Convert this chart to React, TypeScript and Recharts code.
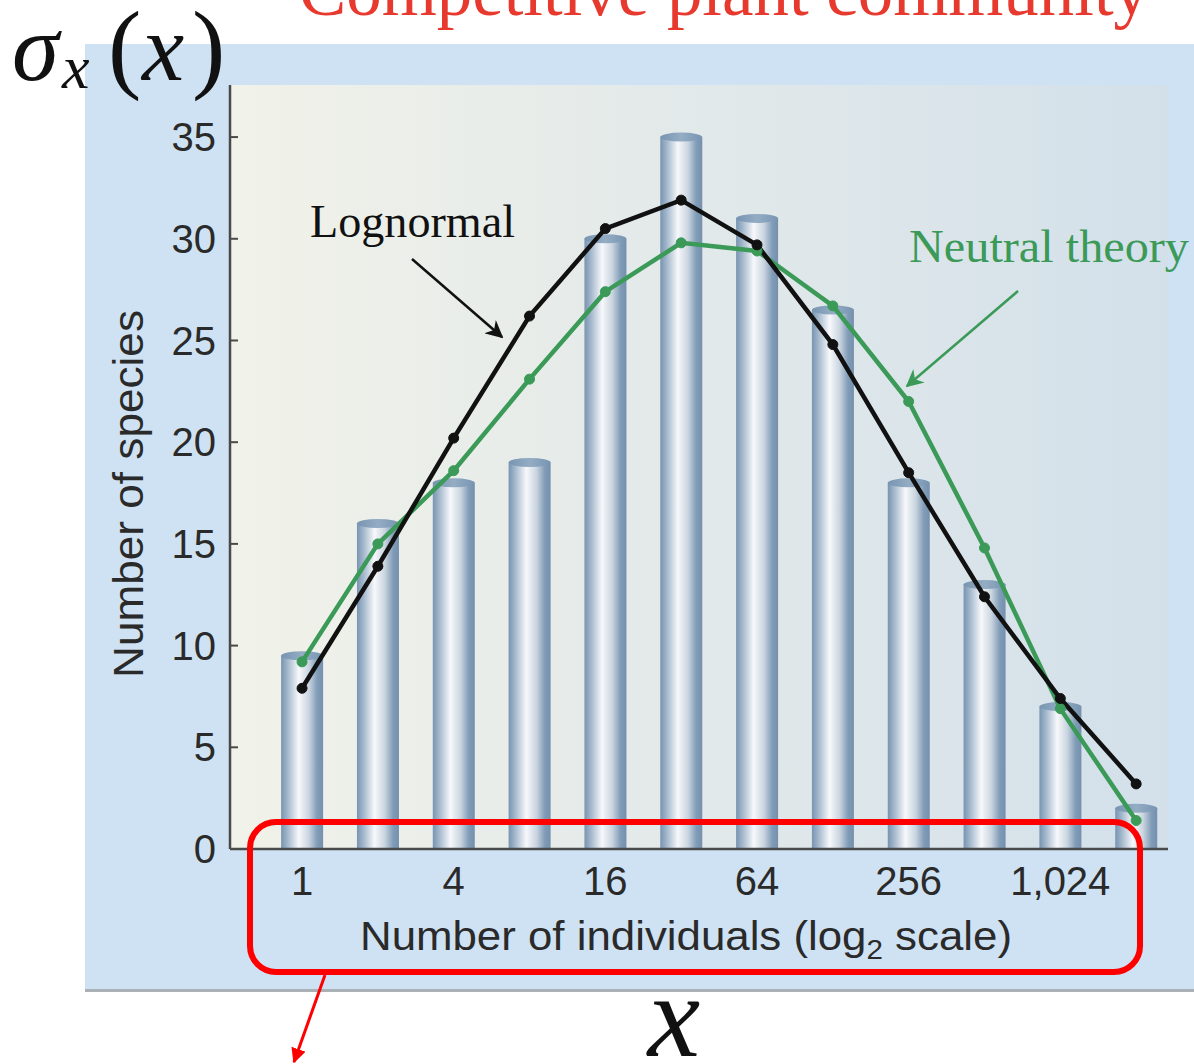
import React from "react";
import { ComposedChart, Bar, Line, XAxis, YAxis, CartesianGrid } from "recharts";

// abundance classes, log2 of the number of individuals (1, 2, 4, ... 2048)
const abundanceClass = [0, 1, 2, 3, 4, 5, 6, 7, 8, 9, 10, 11];
const observedSpecies = [9.5, 16, 18, 19, 30, 35, 31, 26.5, 18, 13, 7, 2];
const lognormalFit = [7.9, 13.9, 20.2, 26.2, 30.5, 31.9, 29.7, 24.8, 18.5, 12.4, 7.4, 3.2];
const neutralFit = [9.2, 15.0, 18.6, 23.1, 27.4, 29.8, 29.4, 26.7, 22.0, 14.8, 6.9, 1.4];

const yTicks = [0, 5, 10, 15, 20, 25, 30, 35];
const xTickClasses = [0, 2, 4, 6, 8, 10];
const xTickLabels = ["1", "4", "16", "64", "256", "1,024"];

const data = abundanceClass.map((k, i) => ({
  k,
  observed: observedSpecies[i],
  lognormal: lognormalFit[i],
  neutral: neutralFit[i],
}));

const sans = "'Liberation Sans', Arial, sans-serif";
const serif = "'Liberation Serif', 'Times New Roman', serif";

const Cylinder = (props: any) => {
  const { x, y, width, height } = props;
  if (!height) return null;
  return (
    <g>
      <rect x={x} y={y} width={width} height={height} fill="url(#cylBody)" />
      <ellipse cx={x + width / 2} cy={y} rx={width / 2} ry={4.5} fill="url(#cylCap)" />
    </g>
  );
};

export default function App() {
  return (
    <div style={{ position: "absolute", left: 0, top: 0, width: 1194, height: 1064, background: "#fff", overflow: "hidden" }}>
      {/* blue panel behind the chart */}
      <div
        style={{
          position: "absolute",
          left: 85,
          top: 44,
          width: 1109,
          height: 945,
          background: "#cfe2f3",
          borderBottom: "3px solid #a9b0b6",
        }}
      />
      <div style={{ position: "absolute", left: 0, top: 0 }}>
        <ComposedChart
          width={1194}
          height={1064}
          data={data}
          margin={{ top: 85, right: 26, bottom: 155, left: 150 }}
        >
          <defs>
            <linearGradient id="plotBg" x1="0" y1="0" x2="1" y2="0">
              <stop offset="0%" stopColor="#f1f2e9" />
              <stop offset="100%" stopColor="#d3e0ea" />
            </linearGradient>
            <linearGradient id="cylBody" x1="0" y1="0" x2="1" y2="0">
              <stop offset="0%" stopColor="#7794b1" />
              <stop offset="14%" stopColor="#9fb4c9" />
              <stop offset="42%" stopColor="#f7f8fb" />
              <stop offset="66%" stopColor="#cad5e0" />
              <stop offset="86%" stopColor="#819cb7" />
              <stop offset="100%" stopColor="#7590ae" />
            </linearGradient>
            <linearGradient id="cylCap" x1="0" y1="0" x2="1" y2="0">
              <stop offset="0%" stopColor="#7794b1" />
              <stop offset="50%" stopColor="#94adc4" />
              <stop offset="100%" stopColor="#7794b1" />
            </linearGradient>
          </defs>
          <CartesianGrid horizontal={false} vertical={false} fill="url(#plotBg)" />
          <XAxis
            dataKey="k"
            type="number"
            domain={[-0.95, 11.42]}
            ticks={xTickClasses}
            tickFormatter={(v: number) => xTickLabels[xTickClasses.indexOf(v)] ?? ""}
            tickLine={false}
            tickMargin={12}
            height={60}
            axisLine={{ stroke: "#4a4a4a", strokeWidth: 2.5 }}
            tick={{ fill: "#2a2a2a", fontSize: 40, fontFamily: sans }}
            allowDataOverflow
          />
          <YAxis
            type="number"
            domain={[0, 37.56]}
            ticks={yTicks}
            width={80}
            tickSize={-8}
            tickMargin={22}
            axisLine={{ stroke: "#4a4a4a", strokeWidth: 2.5 }}
            tickLine={{ stroke: "#4a4a4a", strokeWidth: 2 }}
            tick={{ fill: "#2a2a2a", fontSize: 40, fontFamily: sans }}
            allowDataOverflow
          />
          <Bar dataKey="observed" barSize={42} shape={<Cylinder />} isAnimationActive={false} />
          <Line
            dataKey="neutral"
            stroke="#3b9a58"
            strokeWidth={4.5}
            dot={{ r: 5, fill: "#3b9a58", stroke: "#3b9a58", strokeWidth: 1 }}
            isAnimationActive={false}
          />
          <Line
            dataKey="lognormal"
            stroke="#111"
            strokeWidth={4.5}
            dot={{ r: 5, fill: "#111", stroke: "#111", strokeWidth: 1 }}
            isAnimationActive={false}
          />
        </ComposedChart>
      </div>
      {/* titles and annotations */}
      <svg
        width={1194}
        height={1064}
        style={{ position: "absolute", left: 0, top: 0, pointerEvents: "none" }}
      >
        <defs>
          <marker id="arrBlack" viewBox="0 0 10 10" refX="9" refY="5" markerWidth="7" markerHeight="7" orient="auto">
            <path d="M0,0 L10,5 L0,10 L3,5 Z" fill="#111" />
          </marker>
          <marker id="arrGreen" viewBox="0 0 10 10" refX="9" refY="5" markerWidth="7" markerHeight="7" orient="auto">
            <path d="M0,0 L10,5 L0,10 L3,5 Z" fill="#3b9a58" />
          </marker>
          <marker id="arrRed" viewBox="0 0 10 10" refX="9" refY="5" markerWidth="5" markerHeight="5" orient="auto">
            <path d="M0,0 L10,5 L0,10 Z" fill="#f00" />
          </marker>
        </defs>
        <text x={299} y={15} fontFamily={serif} fontSize={72} fill="#e8392e" textLength={850} lengthAdjust="spacingAndGlyphs">
          Competitive plant community
        </text>
        <text x={12} y={80} fontFamily={serif} fontStyle="italic" fontSize={95} fill="#111">σ</text>
        <text x={62} y={88} fontFamily={serif} fontStyle="italic" fontSize={62} fill="#111">x</text>
        <text x={108} y={80} fontFamily={serif} fontSize={100} fill="#111">(</text>
        <text x={142} y={80} fontFamily={serif} fontStyle="italic" fontSize={95} fill="#111">x</text>
        <text x={192} y={80} fontFamily={serif} fontSize={100} fill="#111">)</text>

        <text
          x={128}
          y={494}
          transform="rotate(-90 128 494)"
          textAnchor="middle"
          dominantBaseline="central"
          fontFamily={sans}
          fontSize={42}
          fill="#2a2a2a"
          textLength={368}
          lengthAdjust="spacingAndGlyphs"
        >
          Number of species
        </text>
        <text x={360} y={950} fontFamily={sans} fontSize={40} fill="#2a2a2a" textLength={652} lengthAdjust="spacingAndGlyphs">
          Number of individuals (log<tspan fontSize={27} dy={9}>2</tspan>
          <tspan dy={-9}> scale)</tspan>
        </text>

        <text x={310} y={237} fontFamily={serif} fontSize={46} fill="#111" textLength={205} lengthAdjust="spacingAndGlyphs">
          Lognormal
        </text>
        <line x1={412} y1={259} x2={502} y2={337} stroke="#111" strokeWidth={2.5} markerEnd="url(#arrBlack)" />
        <text x={909} y={262} fontFamily={serif} fontSize={46} fill="#3b9a58" textLength={280} lengthAdjust="spacingAndGlyphs">
          Neutral theory
        </text>
        <line x1={1018} y1={291} x2={907} y2={386} stroke="#3b9a58" strokeWidth={2.5} markerEnd="url(#arrGreen)" />

        <rect x={250} y={822} width={890} height={150} rx={26} ry={26} fill="none" stroke="#f00" strokeWidth={6} />
        <line x1={325} y1={975} x2={294} y2={1062} stroke="#f00" strokeWidth={3} markerEnd="url(#arrRed)" />

        <text x={674} y={1056} textAnchor="middle" fontFamily={serif} fontStyle="italic" fontSize={118} fill="#111">x</text>
      </svg>
    </div>
  );
}
